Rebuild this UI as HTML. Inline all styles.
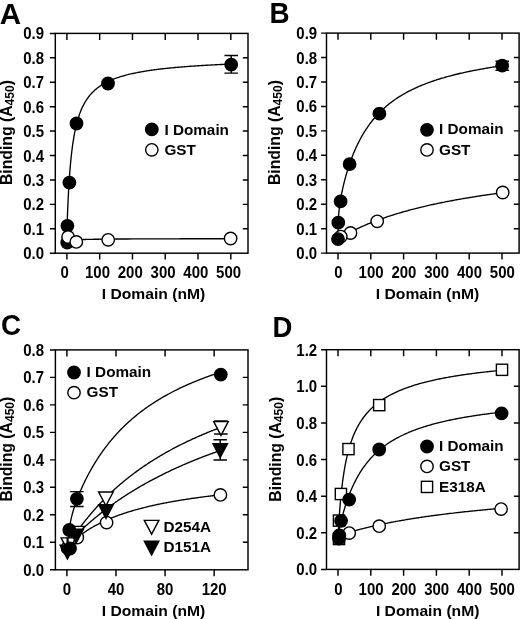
<!DOCTYPE html>
<html><head><meta charset="utf-8"><style>
html,body{margin:0;padding:0;background:#fff;}
svg{display:block;filter:grayscale(1) blur(0.3px);}
.t{font-family:"Liberation Sans", sans-serif;font-weight:bold;font-size:15px;fill:#000;}
.big{font-family:"Liberation Sans", sans-serif;font-weight:bold;font-size:29px;fill:#000;}
</style></head><body>
<svg width="520" height="619" viewBox="0 0 520 619">
<rect width="520" height="619" fill="#fff"/>
<rect x="55.3" y="33.4" width="192.70" height="219.80" fill="none" stroke="#000" stroke-width="1.45"/>
<path d="M49.90,253.20H55.30M49.90,228.78H55.30M242.80,228.78H248.00M49.90,204.36H55.30M242.80,204.36H248.00M49.90,179.93H55.30M242.80,179.93H248.00M49.90,155.51H55.30M242.80,155.51H248.00M49.90,131.09H55.30M242.80,131.09H248.00M49.90,106.67H55.30M242.80,106.67H248.00M49.90,82.24H55.30M242.80,82.24H248.00M49.90,57.82H55.30M242.80,57.82H248.00M49.90,33.40H55.30M66.90,253.20V259.60M66.90,33.40V40.00M99.68,253.20V259.60M99.68,33.40V40.00M132.46,253.20V259.60M132.46,33.40V40.00M165.24,253.20V259.60M165.24,33.40V40.00M198.02,253.20V259.60M198.02,33.40V40.00M230.80,253.20V259.60M230.80,33.40V40.00" stroke="#000" stroke-width="1.45" fill="none"/>
<text transform="translate(44.10,259.20) scale(1,1.06)" text-anchor="end" class="t">0.0</text>
<text transform="translate(44.10,234.78) scale(1,1.06)" text-anchor="end" class="t">0.1</text>
<text transform="translate(44.10,210.36) scale(1,1.06)" text-anchor="end" class="t">0.2</text>
<text transform="translate(44.10,185.93) scale(1,1.06)" text-anchor="end" class="t">0.3</text>
<text transform="translate(44.10,161.51) scale(1,1.06)" text-anchor="end" class="t">0.4</text>
<text transform="translate(44.10,137.09) scale(1,1.06)" text-anchor="end" class="t">0.5</text>
<text transform="translate(44.10,112.67) scale(1,1.06)" text-anchor="end" class="t">0.6</text>
<text transform="translate(44.10,88.24) scale(1,1.06)" text-anchor="end" class="t">0.7</text>
<text transform="translate(44.10,63.82) scale(1,1.06)" text-anchor="end" class="t">0.8</text>
<text transform="translate(44.10,39.40) scale(1,1.06)" text-anchor="end" class="t">0.9</text>
<text transform="translate(64.70,277.60) scale(1,1.06)" text-anchor="middle" class="t">0</text>
<text transform="translate(97.48,277.60) scale(1,1.06)" text-anchor="middle" class="t">100</text>
<text transform="translate(130.26,277.60) scale(1,1.06)" text-anchor="middle" class="t">200</text>
<text transform="translate(163.04,277.60) scale(1,1.06)" text-anchor="middle" class="t">300</text>
<text transform="translate(195.82,277.60) scale(1,1.06)" text-anchor="middle" class="t">400</text>
<text transform="translate(228.60,277.60) scale(1,1.06)" text-anchor="middle" class="t">500</text>
<text transform="translate(12.00,185.00) rotate(-90) scale(1.05,1.06)" class="t">Binding (A<tspan style="font-size:11.5px" dy="2">450</tspan><tspan dy="-2">)</tspan></text>
<text transform="translate(101.70,298.80) scale(1.045,1)" class="t">I Domain (nM)</text>
<text transform="translate(-0.30,23.80) scale(1.02,1.0)" class="big">A</text>
<path d="M66.90,231.40 L66.90,231.39 L66.90,231.34 L66.91,231.20 L66.91,230.92 L66.93,230.47 L66.95,229.79 L66.98,228.87 L67.02,227.65 L67.07,226.11 L67.13,224.24 L67.21,222.01 L67.30,219.42 L67.41,216.47 L67.54,213.17 L67.68,209.55 L67.85,205.64 L67.93,203.88 L68.04,201.46 L68.26,197.05 L68.49,192.47 L68.76,187.74 L68.96,184.39 L69.05,182.93 L69.38,178.06 L69.73,173.18 L69.99,169.81 L70.11,168.33 L70.53,163.54 L70.99,158.83 L71.02,158.47 L71.48,154.24 L72.00,149.77 L72.05,149.37 L72.57,145.45 L73.08,141.88 L73.18,141.28 L73.83,137.27 L74.12,135.62 L74.52,133.43 L75.15,130.28 L75.26,129.76 L76.04,126.26 L76.18,125.67 L76.87,122.92 L77.21,121.65 L77.75,119.74 L78.24,118.10 L78.68,116.72 L79.27,114.96 L79.66,113.86 L80.30,112.13 L80.69,111.14 L81.33,109.59 L81.78,108.56 L82.36,107.29 L82.92,106.12 L83.39,105.19 L84.12,103.81 L84.42,103.27 L85.38,101.62 L85.45,101.50 L86.49,99.87 L86.70,99.54 L87.52,98.36 L88.09,97.57 L88.55,96.96 L89.53,95.71 L89.58,95.65 L90.61,94.43 L91.04,93.94 L91.64,93.29 L92.61,92.27 L92.67,92.21 L93.70,91.20 L94.25,90.69 L94.73,90.25 L95.76,89.35 L95.96,89.19 L96.79,88.50 L97.74,87.76 L97.82,87.70 L98.86,86.94 L99.59,86.41 L99.89,86.21 L100.92,85.52 L101.51,85.13 L101.95,84.86 L102.98,84.23 L103.51,83.92 L104.01,83.63 L105.04,83.06 L105.58,82.76 L106.07,82.51 L107.10,81.98 L107.73,81.67 L108.13,81.47 L109.16,80.99 L109.96,80.63 L110.19,80.52 L111.23,80.08 L112.26,79.64 L112.26,79.64 L113.29,79.23 L114.32,78.83 L114.65,78.70 L115.35,78.44 L116.38,78.07 L117.12,77.81 L117.41,77.71 L118.44,77.36 L119.47,77.03 L119.67,76.96 L120.50,76.70 L121.53,76.38 L122.31,76.15 L122.56,76.08 L123.59,75.78 L124.63,75.50 L125.03,75.38 L125.66,75.22 L126.69,74.95 L127.72,74.69 L127.85,74.65 L128.75,74.43 L129.78,74.18 L130.75,73.96 L130.81,73.94 L131.84,73.71 L132.87,73.48 L133.74,73.29 L133.90,73.26 L134.93,73.04 L135.96,72.83 L136.83,72.66 L137.00,72.62 L138.03,72.42 L139.06,72.23 L140.00,72.05 L140.09,72.04 L141.12,71.85 L142.15,71.67 L143.18,71.50 L143.28,71.48 L144.21,71.32 L145.24,71.15 L146.27,70.99 L146.64,70.93 L147.30,70.83 L148.33,70.67 L149.37,70.52 L150.11,70.41 L150.40,70.36 L151.43,70.22 L152.46,70.07 L153.49,69.93 L153.68,69.91 L154.52,69.79 L155.55,69.66 L156.58,69.52 L157.34,69.43 L157.61,69.39 L158.64,69.27 L159.67,69.14 L160.70,69.02 L161.11,68.97 L161.74,68.90 L162.77,68.78 L163.80,68.66 L164.83,68.55 L164.98,68.53 L165.86,68.44 L166.89,68.33 L167.92,68.22 L168.95,68.12 L168.96,68.12 L169.98,68.01 L171.01,67.91 L172.04,67.81 L173.04,67.72 L173.07,67.71 L174.11,67.62 L175.14,67.52 L176.17,67.43 L177.20,67.34 L177.23,67.33 L178.23,67.25 L179.26,67.16 L180.29,67.07 L181.32,66.99 L181.53,66.97 L182.35,66.90 L183.38,66.82 L184.41,66.74 L185.44,66.66 L185.94,66.62 L186.47,66.58 L187.51,66.50 L188.54,66.42 L189.57,66.35 L190.46,66.28 L190.60,66.27 L191.63,66.20 L192.66,66.13 L193.69,66.06 L194.72,65.99 L195.09,65.96 L195.75,65.92 L196.78,65.85 L197.81,65.78 L198.84,65.72 L199.84,65.65 L199.88,65.65 L200.91,65.59 L201.94,65.52 L202.97,65.46 L204.00,65.40 L204.70,65.36 L205.03,65.34 L206.06,65.28 L207.09,65.22 L208.12,65.16 L209.15,65.10 L209.68,65.07 L210.18,65.05 L211.21,64.99 L212.25,64.94 L213.28,64.88 L214.31,64.83 L214.78,64.80 L215.34,64.77 L216.37,64.72 L217.40,64.67 L218.43,64.62 L219.46,64.57 L220.00,64.54 L220.49,64.52 L221.52,64.47 L222.55,64.42 L223.58,64.37 L224.62,64.32 L225.34,64.29 L225.65,64.28 L226.68,64.23 L227.71,64.18 L228.74,64.14 L229.77,64.09 L230.80,64.05" fill="none" stroke="#000" stroke-width="1.35" stroke-linejoin="round"/>
<path d="M66.90,240.50 L66.90,240.50 L66.90,240.50 L66.91,240.50 L66.91,240.50 L66.93,240.50 L66.95,240.49 L66.98,240.49 L67.02,240.49 L67.07,240.48 L67.13,240.47 L67.21,240.46 L67.30,240.45 L67.41,240.44 L67.54,240.43 L67.68,240.41 L67.85,240.39 L67.93,240.38 L68.04,240.37 L68.26,240.35 L68.49,240.33 L68.76,240.30 L68.96,240.28 L69.05,240.27 L69.38,240.24 L69.73,240.21 L69.99,240.19 L70.11,240.18 L70.53,240.15 L70.99,240.11 L71.02,240.11 L71.48,240.07 L72.00,240.04 L72.05,240.03 L72.57,240.00 L73.08,239.97 L73.18,239.96 L73.83,239.92 L74.12,239.90 L74.52,239.88 L75.15,239.85 L75.26,239.84 L76.04,239.80 L76.18,239.79 L76.87,239.76 L77.21,239.75 L77.75,239.72 L78.24,239.70 L78.68,239.68 L79.27,239.66 L79.66,239.65 L80.30,239.62 L80.69,239.61 L81.33,239.59 L81.78,239.57 L82.36,239.55 L82.92,239.53 L83.39,239.52 L84.12,239.50 L84.42,239.49 L85.38,239.46 L85.45,239.46 L86.49,239.44 L86.70,239.43 L87.52,239.41 L88.09,239.40 L88.55,239.39 L89.53,239.37 L89.58,239.37 L90.61,239.35 L91.04,239.34 L91.64,239.33 L92.61,239.31 L92.67,239.31 L93.70,239.29 L94.25,239.28 L94.73,239.27 L95.76,239.25 L95.96,239.25 L96.79,239.24 L97.74,239.22 L97.82,239.22 L98.86,239.21 L99.59,239.20 L99.89,239.20 L100.92,239.18 L101.51,239.17 L101.95,239.17 L102.98,239.16 L103.51,239.15 L104.01,239.15 L105.04,239.13 L105.58,239.13 L106.07,239.12 L107.10,239.11 L107.73,239.11 L108.13,239.10 L109.16,239.09 L109.96,239.09 L110.19,239.08 L111.23,239.07 L112.26,239.07 L112.26,239.07 L113.29,239.06 L114.32,239.05 L114.65,239.05 L115.35,239.04 L116.38,239.03 L117.12,239.03 L117.41,239.03 L118.44,239.02 L119.47,239.01 L119.67,239.01 L120.50,239.00 L121.53,239.00 L122.31,238.99 L122.56,238.99 L123.59,238.98 L124.63,238.98 L125.03,238.98 L125.66,238.97 L126.69,238.97 L127.72,238.96 L127.85,238.96 L128.75,238.96 L129.78,238.95 L130.75,238.95 L130.81,238.95 L131.84,238.94 L132.87,238.94 L133.74,238.93 L133.90,238.93 L134.93,238.93 L135.96,238.92 L136.83,238.92 L137.00,238.92 L138.03,238.91 L139.06,238.91 L140.00,238.90 L140.09,238.90 L141.12,238.90 L142.15,238.90 L143.18,238.89 L143.28,238.89 L144.21,238.89 L145.24,238.88 L146.27,238.88 L146.64,238.88 L147.30,238.88 L148.33,238.87 L149.37,238.87 L150.11,238.87 L150.40,238.87 L151.43,238.86 L152.46,238.86 L153.49,238.86 L153.68,238.86 L154.52,238.85 L155.55,238.85 L156.58,238.85 L157.34,238.85 L157.61,238.85 L158.64,238.84 L159.67,238.84 L160.70,238.84 L161.11,238.84 L161.74,238.83 L162.77,238.83 L163.80,238.83 L164.83,238.83 L164.98,238.83 L165.86,238.82 L166.89,238.82 L167.92,238.82 L168.95,238.82 L168.96,238.82 L169.98,238.81 L171.01,238.81 L172.04,238.81 L173.04,238.81 L173.07,238.81 L174.11,238.81 L175.14,238.80 L176.17,238.80 L177.20,238.80 L177.23,238.80 L178.23,238.80 L179.26,238.80 L180.29,238.79 L181.32,238.79 L181.53,238.79 L182.35,238.79 L183.38,238.79 L184.41,238.79 L185.44,238.78 L185.94,238.78 L186.47,238.78 L187.51,238.78 L188.54,238.78 L189.57,238.78 L190.46,238.78 L190.60,238.78 L191.63,238.77 L192.66,238.77 L193.69,238.77 L194.72,238.77 L195.09,238.77 L195.75,238.77 L196.78,238.77 L197.81,238.76 L198.84,238.76 L199.84,238.76 L199.88,238.76 L200.91,238.76 L201.94,238.76 L202.97,238.76 L204.00,238.76 L204.70,238.75 L205.03,238.75 L206.06,238.75 L207.09,238.75 L208.12,238.75 L209.15,238.75 L209.68,238.75 L210.18,238.75 L211.21,238.75 L212.25,238.74 L213.28,238.74 L214.31,238.74 L214.78,238.74 L215.34,238.74 L216.37,238.74 L217.40,238.74 L218.43,238.74 L219.46,238.74 L220.00,238.74 L220.49,238.74 L221.52,238.73 L222.55,238.73 L223.58,238.73 L224.62,238.73 L225.34,238.73 L225.65,238.73 L226.68,238.73 L227.71,238.73 L228.74,238.73 L229.77,238.73 L230.80,238.72" fill="none" stroke="#000" stroke-width="1.35" stroke-linejoin="round"/>
<path d="M231.20,55.40V73.10M224.45,55.40H237.95M224.45,73.10H237.95" stroke="#000" stroke-width="1.45" fill="none"/>
<circle cx="67.20" cy="242.60" r="6.2" fill="#000" stroke="#000" stroke-width="1.4"/>
<circle cx="67.40" cy="225.80" r="6.2" fill="#000" stroke="#000" stroke-width="1.4"/>
<circle cx="69.40" cy="182.60" r="6.2" fill="#000" stroke="#000" stroke-width="1.4"/>
<circle cx="76.50" cy="123.50" r="6.2" fill="#000" stroke="#000" stroke-width="1.4"/>
<circle cx="108.00" cy="83.50" r="6.2" fill="#000" stroke="#000" stroke-width="1.4"/>
<circle cx="231.20" cy="64.60" r="6.2" fill="#000" stroke="#000" stroke-width="1.4"/>
<circle cx="68.10" cy="237.00" r="6.2" fill="#fff" stroke="#000" stroke-width="1.4"/>
<circle cx="76.30" cy="241.90" r="6.2" fill="#fff" stroke="#000" stroke-width="1.4"/>
<circle cx="108.20" cy="239.80" r="6.2" fill="#fff" stroke="#000" stroke-width="1.4"/>
<circle cx="230.60" cy="238.50" r="6.2" fill="#fff" stroke="#000" stroke-width="1.4"/>
<circle cx="151.80" cy="129.40" r="6.2" fill="#000" stroke="#000" stroke-width="1.4"/>
<text transform="translate(164.40,134.60) scale(1.02,1.0)" class="t">I Domain</text>
<circle cx="151.80" cy="149.80" r="6.2" fill="#fff" stroke="#000" stroke-width="1.4"/>
<text transform="translate(164.40,155.00) scale(1.02,1.0)" class="t">GST</text>
<rect x="326.5" y="33.1" width="192.60" height="220.00" fill="none" stroke="#000" stroke-width="1.45"/>
<path d="M321.10,253.10H326.50M321.10,228.66H326.50M513.90,228.66H519.10M321.10,204.21H326.50M513.90,204.21H519.10M321.10,179.77H326.50M513.90,179.77H519.10M321.10,155.32H326.50M513.90,155.32H519.10M321.10,130.88H326.50M513.90,130.88H519.10M321.10,106.43H326.50M513.90,106.43H519.10M321.10,81.99H326.50M513.90,81.99H519.10M321.10,57.54H326.50M513.90,57.54H519.10M321.10,33.10H326.50M338.00,253.10V259.50M338.00,33.10V39.70M370.80,253.10V259.50M370.80,33.10V39.70M403.60,253.10V259.50M403.60,33.10V39.70M436.40,253.10V259.50M436.40,33.10V39.70M469.20,253.10V259.50M469.20,33.10V39.70M502.00,253.10V259.50M502.00,33.10V39.70" stroke="#000" stroke-width="1.45" fill="none"/>
<text transform="translate(317.20,259.10) scale(1,1.06)" text-anchor="end" class="t">0.0</text>
<text transform="translate(317.20,234.66) scale(1,1.06)" text-anchor="end" class="t">0.1</text>
<text transform="translate(317.20,210.21) scale(1,1.06)" text-anchor="end" class="t">0.2</text>
<text transform="translate(317.20,185.77) scale(1,1.06)" text-anchor="end" class="t">0.3</text>
<text transform="translate(317.20,161.32) scale(1,1.06)" text-anchor="end" class="t">0.4</text>
<text transform="translate(317.20,136.88) scale(1,1.06)" text-anchor="end" class="t">0.5</text>
<text transform="translate(317.20,112.43) scale(1,1.06)" text-anchor="end" class="t">0.6</text>
<text transform="translate(317.20,87.99) scale(1,1.06)" text-anchor="end" class="t">0.7</text>
<text transform="translate(317.20,63.54) scale(1,1.06)" text-anchor="end" class="t">0.8</text>
<text transform="translate(317.20,39.10) scale(1,1.06)" text-anchor="end" class="t">0.9</text>
<text transform="translate(338.30,277.50) scale(1,1.06)" text-anchor="middle" class="t">0</text>
<text transform="translate(371.10,277.50) scale(1,1.06)" text-anchor="middle" class="t">100</text>
<text transform="translate(403.90,277.50) scale(1,1.06)" text-anchor="middle" class="t">200</text>
<text transform="translate(436.70,277.50) scale(1,1.06)" text-anchor="middle" class="t">300</text>
<text transform="translate(469.50,277.50) scale(1,1.06)" text-anchor="middle" class="t">400</text>
<text transform="translate(502.30,277.50) scale(1,1.06)" text-anchor="middle" class="t">500</text>
<text transform="translate(280.00,185.00) rotate(-90) scale(1.05,1.06)" class="t">Binding (A<tspan style="font-size:11.5px" dy="2">450</tspan><tspan dy="-2">)</tspan></text>
<text transform="translate(375.80,298.50) scale(1.045,1)" class="t">I Domain (nM)</text>
<text transform="translate(269.40,23.20) scale(0.96,1.0)" class="big">B</text>
<path d="M338.00,238.93 L338.00,238.91 L338.00,238.76 L338.01,238.35 L338.01,237.58 L338.03,236.39 L338.05,234.75 L338.08,232.72 L338.12,230.39 L338.17,227.88 L338.23,225.28 L338.31,222.71 L338.40,220.21 L338.51,217.83 L338.64,215.56 L338.79,213.40 L338.95,211.34 L339.03,210.48 L339.14,209.34 L339.36,207.40 L339.60,205.47 L339.86,203.55 L340.06,202.19 L340.15,201.61 L340.48,199.64 L340.83,197.63 L341.09,196.21 L341.22,195.57 L341.63,193.45 L342.09,191.27 L342.13,191.10 L342.58,189.03 L343.11,186.72 L343.16,186.50 L343.67,184.34 L344.19,182.27 L344.28,181.90 L344.93,179.41 L345.22,178.33 L345.62,176.85 L346.25,174.62 L346.36,174.25 L347.14,171.59 L347.28,171.13 L347.97,168.90 L348.31,167.83 L348.85,166.17 L349.35,164.70 L349.78,163.42 L350.38,161.72 L350.77,160.64 L351.41,158.88 L351.80,157.84 L352.44,156.18 L352.89,155.04 L353.47,153.59 L354.03,152.23 L354.50,151.12 L355.24,149.43 L355.53,148.75 L356.50,146.64 L356.57,146.49 L357.60,144.31 L357.82,143.86 L358.63,142.22 L359.20,141.10 L359.66,140.21 L360.64,138.37 L360.69,138.28 L361.72,136.42 L362.15,135.66 L362.75,134.63 L363.73,132.99 L363.79,132.90 L364.82,131.23 L365.37,130.36 L365.85,129.62 L366.88,128.07 L367.08,127.77 L367.91,126.56 L368.86,125.23 L368.94,125.11 L369.97,123.70 L370.71,122.73 L371.01,122.34 L372.04,121.02 L372.63,120.28 L373.07,119.74 L374.10,118.50 L374.63,117.88 L375.13,117.30 L376.16,116.13 L376.70,115.53 L377.19,115.00 L378.23,113.90 L378.85,113.24 L379.26,112.82 L380.29,111.78 L381.08,111.00 L381.32,110.77 L382.35,109.79 L383.38,108.83 L383.39,108.82 L384.42,107.89 L385.45,106.98 L385.78,106.70 L386.48,106.10 L387.51,105.23 L388.25,104.63 L388.54,104.39 L389.57,103.57 L390.60,102.77 L390.80,102.61 L391.64,101.98 L392.67,101.22 L393.44,100.66 L393.70,100.48 L394.73,99.75 L395.76,99.03 L396.17,98.76 L396.79,98.34 L397.82,97.66 L398.86,96.99 L398.98,96.91 L399.89,96.34 L400.92,95.71 L401.89,95.12 L401.95,95.08 L402.98,94.47 L404.01,93.88 L404.88,93.38 L405.04,93.29 L406.08,92.72 L407.11,92.16 L407.97,91.70 L408.14,91.61 L409.17,91.07 L410.20,90.54 L411.15,90.07 L411.23,90.03 L412.26,89.52 L413.30,89.02 L414.33,88.53 L414.42,88.49 L415.36,88.05 L416.39,87.58 L417.42,87.12 L417.79,86.96 L418.45,86.67 L419.48,86.22 L420.52,85.79 L421.26,85.48 L421.55,85.36 L422.58,84.94 L423.61,84.52 L424.64,84.12 L424.83,84.04 L425.67,83.72 L426.70,83.32 L427.74,82.94 L428.50,82.66 L428.77,82.56 L429.80,82.18 L430.83,81.82 L431.86,81.45 L432.27,81.31 L432.89,81.10 L433.92,80.75 L434.96,80.40 L435.99,80.07 L436.14,80.01 L437.02,79.73 L438.05,79.40 L439.08,79.08 L440.11,78.76 L440.12,78.76 L441.14,78.45 L442.18,78.14 L443.21,77.84 L444.21,77.55 L444.24,77.54 L445.27,77.24 L446.30,76.95 L447.33,76.66 L448.36,76.38 L448.40,76.37 L449.40,76.10 L450.43,75.83 L451.46,75.56 L452.49,75.29 L452.70,75.24 L453.52,75.03 L454.55,74.77 L455.58,74.51 L456.62,74.26 L457.11,74.14 L457.65,74.01 L458.68,73.77 L459.71,73.52 L460.74,73.28 L461.63,73.08 L461.77,73.05 L462.81,72.82 L463.84,72.59 L464.87,72.36 L465.90,72.14 L466.27,72.06 L466.93,71.91 L467.96,71.70 L468.99,71.48 L470.03,71.27 L471.02,71.07 L471.06,71.06 L472.09,70.85 L473.12,70.65 L474.15,70.44 L475.18,70.24 L475.88,70.11 L476.21,70.05 L477.25,69.85 L478.28,69.66 L479.31,69.47 L480.34,69.28 L480.87,69.18 L481.37,69.09 L482.40,68.91 L483.43,68.73 L484.47,68.55 L485.50,68.37 L485.97,68.29 L486.53,68.20 L487.56,68.02 L488.59,67.85 L489.62,67.68 L490.65,67.51 L491.19,67.43 L491.69,67.35 L492.72,67.18 L493.75,67.02 L494.78,66.86 L495.81,66.70 L496.53,66.59 L496.84,66.54 L497.87,66.39 L498.91,66.24 L499.94,66.08 L500.97,65.93 L502.00,65.78" fill="none" stroke="#000" stroke-width="1.35" stroke-linejoin="round"/>
<path d="M338.00,238.93 L338.00,238.93 L338.00,238.93 L338.01,238.93 L338.01,238.92 L338.03,238.91 L338.05,238.90 L338.08,238.88 L338.12,238.86 L338.17,238.83 L338.23,238.79 L338.31,238.74 L338.40,238.69 L338.51,238.62 L338.64,238.55 L338.79,238.46 L338.95,238.36 L339.03,238.31 L339.14,238.24 L339.36,238.12 L339.60,237.98 L339.86,237.82 L340.06,237.70 L340.15,237.65 L340.48,237.46 L340.83,237.25 L341.09,237.10 L341.22,237.03 L341.63,236.79 L342.09,236.53 L342.13,236.51 L342.58,236.25 L343.11,235.95 L343.16,235.92 L343.67,235.63 L344.19,235.35 L344.28,235.30 L344.93,234.94 L345.22,234.78 L345.62,234.56 L346.25,234.22 L346.36,234.16 L347.14,233.74 L347.28,233.67 L347.97,233.30 L348.31,233.12 L348.85,232.84 L349.35,232.58 L349.78,232.36 L350.38,232.05 L350.77,231.85 L351.41,231.53 L351.80,231.33 L352.44,231.01 L352.89,230.79 L353.47,230.50 L354.03,230.23 L354.50,230.00 L355.24,229.64 L355.53,229.50 L356.50,229.04 L356.57,229.01 L357.60,228.52 L357.82,228.42 L358.63,228.05 L359.20,227.78 L359.66,227.57 L360.64,227.13 L360.69,227.11 L361.72,226.64 L362.15,226.45 L362.75,226.19 L363.73,225.77 L363.79,225.74 L364.82,225.30 L365.37,225.06 L365.85,224.86 L366.88,224.42 L367.08,224.34 L367.91,223.99 L368.86,223.60 L368.94,223.57 L369.97,223.15 L370.71,222.86 L371.01,222.74 L372.04,222.33 L372.63,222.10 L373.07,221.93 L374.10,221.53 L374.63,221.32 L375.13,221.13 L376.16,220.74 L376.70,220.54 L377.19,220.36 L378.23,219.97 L378.85,219.74 L379.26,219.60 L380.29,219.22 L381.08,218.94 L381.32,218.85 L382.35,218.49 L383.38,218.13 L383.39,218.13 L384.42,217.77 L385.45,217.42 L385.78,217.31 L386.48,217.07 L387.51,216.72 L388.25,216.48 L388.54,216.38 L389.57,216.04 L390.60,215.71 L390.80,215.64 L391.64,215.38 L392.67,215.05 L393.44,214.81 L393.70,214.73 L394.73,214.40 L395.76,214.09 L396.17,213.96 L396.79,213.77 L397.82,213.46 L398.86,213.15 L398.98,213.11 L399.89,212.85 L400.92,212.55 L401.89,212.26 L401.95,212.25 L402.98,211.95 L404.01,211.66 L404.88,211.41 L405.04,211.37 L406.08,211.08 L407.11,210.80 L407.97,210.56 L408.14,210.51 L409.17,210.23 L410.20,209.96 L411.15,209.71 L411.23,209.68 L412.26,209.41 L413.30,209.14 L414.33,208.88 L414.42,208.85 L415.36,208.61 L416.39,208.35 L417.42,208.09 L417.79,208.00 L418.45,207.84 L419.48,207.58 L420.52,207.33 L421.26,207.15 L421.55,207.08 L422.58,206.84 L423.61,206.59 L424.64,206.35 L424.83,206.30 L425.67,206.11 L426.70,205.87 L427.74,205.63 L428.50,205.46 L428.77,205.40 L429.80,205.17 L430.83,204.94 L431.86,204.71 L432.27,204.62 L432.89,204.48 L433.92,204.26 L434.96,204.04 L435.99,203.82 L436.14,203.78 L437.02,203.60 L438.05,203.38 L439.08,203.17 L440.11,202.95 L440.12,202.95 L441.14,202.74 L442.18,202.53 L443.21,202.32 L444.21,202.13 L444.24,202.12 L445.27,201.91 L446.30,201.71 L447.33,201.51 L448.36,201.31 L448.40,201.30 L449.40,201.11 L450.43,200.92 L451.46,200.72 L452.49,200.53 L452.70,200.49 L453.52,200.34 L454.55,200.15 L455.58,199.96 L456.62,199.77 L457.11,199.68 L457.65,199.59 L458.68,199.40 L459.71,199.22 L460.74,199.04 L461.63,198.88 L461.77,198.86 L462.81,198.68 L463.84,198.50 L464.87,198.33 L465.90,198.15 L466.27,198.09 L466.93,197.98 L467.96,197.81 L468.99,197.64 L470.03,197.47 L471.02,197.31 L471.06,197.30 L472.09,197.14 L473.12,196.97 L474.15,196.81 L475.18,196.64 L475.88,196.53 L476.21,196.48 L477.25,196.32 L478.28,196.16 L479.31,196.00 L480.34,195.85 L480.87,195.77 L481.37,195.69 L482.40,195.54 L483.43,195.38 L484.47,195.23 L485.50,195.08 L485.97,195.01 L486.53,194.93 L487.56,194.78 L488.59,194.63 L489.62,194.48 L490.65,194.34 L491.19,194.26 L491.69,194.19 L492.72,194.05 L493.75,193.90 L494.78,193.76 L495.81,193.62 L496.53,193.52 L496.84,193.48 L497.87,193.34 L498.91,193.20 L499.94,193.06 L500.97,192.93 L502.00,192.79" fill="none" stroke="#000" stroke-width="1.35" stroke-linejoin="round"/>
<circle cx="502.70" cy="192.50" r="6.2" fill="#fff" stroke="#000" stroke-width="1.4"/>
<circle cx="377.20" cy="221.30" r="6.2" fill="#fff" stroke="#000" stroke-width="1.4"/>
<circle cx="350.50" cy="233.00" r="6.2" fill="#fff" stroke="#000" stroke-width="1.4"/>
<circle cx="340.80" cy="236.60" r="6.2" fill="#fff" stroke="#000" stroke-width="1.4"/>
<path d="M502.20,61.20V70.20M495.45,61.20H508.95M495.45,70.20H508.95" stroke="#000" stroke-width="1.45" fill="none"/>
<circle cx="338.00" cy="239.10" r="6.2" fill="#000" stroke="#000" stroke-width="1.4"/>
<circle cx="338.30" cy="222.70" r="6.2" fill="#000" stroke="#000" stroke-width="1.4"/>
<circle cx="340.60" cy="201.40" r="6.2" fill="#000" stroke="#000" stroke-width="1.4"/>
<circle cx="349.60" cy="164.20" r="6.2" fill="#000" stroke="#000" stroke-width="1.4"/>
<circle cx="379.40" cy="113.70" r="6.2" fill="#000" stroke="#000" stroke-width="1.4"/>
<circle cx="502.20" cy="65.70" r="6.2" fill="#000" stroke="#000" stroke-width="1.4"/>
<circle cx="427.00" cy="129.80" r="6.2" fill="#000" stroke="#000" stroke-width="1.4"/>
<text transform="translate(439.00,134.40) scale(1.02,1.0)" class="t">I Domain</text>
<circle cx="427.00" cy="149.90" r="6.2" fill="#fff" stroke="#000" stroke-width="1.4"/>
<text transform="translate(439.00,154.50) scale(1.02,1.0)" class="t">GST</text>
<rect x="55.4" y="349.9" width="192.60" height="219.90" fill="none" stroke="#000" stroke-width="1.45"/>
<path d="M50.00,569.80H55.40M50.00,542.31H55.40M242.80,542.31H248.00M50.00,514.82H55.40M242.80,514.82H248.00M50.00,487.34H55.40M242.80,487.34H248.00M50.00,459.85H55.40M242.80,459.85H248.00M50.00,432.36H55.40M242.80,432.36H248.00M50.00,404.88H55.40M242.80,404.88H248.00M50.00,377.39H55.40M242.80,377.39H248.00M50.00,349.90H55.40M66.90,569.80V576.20M66.90,349.90V356.50M115.98,569.80V576.20M115.98,349.90V356.50M165.06,569.80V576.20M165.06,349.90V356.50M214.14,569.80V576.20M214.14,349.90V356.50" stroke="#000" stroke-width="1.45" fill="none"/>
<text transform="translate(44.00,575.80) scale(1,1.06)" text-anchor="end" class="t">0.0</text>
<text transform="translate(44.00,548.31) scale(1,1.06)" text-anchor="end" class="t">0.1</text>
<text transform="translate(44.00,520.82) scale(1,1.06)" text-anchor="end" class="t">0.2</text>
<text transform="translate(44.00,493.34) scale(1,1.06)" text-anchor="end" class="t">0.3</text>
<text transform="translate(44.00,465.85) scale(1,1.06)" text-anchor="end" class="t">0.4</text>
<text transform="translate(44.00,438.36) scale(1,1.06)" text-anchor="end" class="t">0.5</text>
<text transform="translate(44.00,410.88) scale(1,1.06)" text-anchor="end" class="t">0.6</text>
<text transform="translate(44.00,383.39) scale(1,1.06)" text-anchor="end" class="t">0.7</text>
<text transform="translate(44.00,355.90) scale(1,1.06)" text-anchor="end" class="t">0.8</text>
<text transform="translate(66.90,595.10) scale(1,1.06)" text-anchor="middle" class="t">0</text>
<text transform="translate(115.98,595.10) scale(1,1.06)" text-anchor="middle" class="t">40</text>
<text transform="translate(165.06,595.10) scale(1,1.06)" text-anchor="middle" class="t">80</text>
<text transform="translate(214.14,595.10) scale(1,1.06)" text-anchor="middle" class="t">120</text>
<text transform="translate(12.00,501.60) rotate(-90) scale(1.05,1.06)" class="t">Binding (A<tspan style="font-size:11.5px" dy="2">450</tspan><tspan dy="-2">)</tspan></text>
<text transform="translate(101.70,615.70) scale(1.045,1)" class="t">I Domain (nM)</text>
<text transform="translate(1.00,335.40) scale(0.96,1.0)" class="big">C</text>
<path d="M69.30,530.00 L69.30,530.00 L69.30,529.99 L69.31,529.95 L69.31,529.88 L69.33,529.77 L69.35,529.61 L69.37,529.38 L69.41,529.09 L69.46,528.72 L69.51,528.26 L69.59,527.73 L69.67,527.11 L69.77,526.41 L69.89,525.62 L70.02,524.76 L70.18,523.82 L70.25,523.40 L70.35,522.82 L70.55,521.75 L70.77,520.62 L71.01,519.43 L71.20,518.58 L71.28,518.20 L71.58,516.91 L71.91,515.57 L72.15,514.61 L72.26,514.18 L72.65,512.75 L73.06,511.27 L73.10,511.15 L73.52,509.74 L74.00,508.16 L74.05,508.01 L74.52,506.53 L75.00,505.10 L75.08,504.84 L75.68,503.11 L75.95,502.36 L76.32,501.33 L76.90,499.76 L77.00,499.49 L77.72,497.60 L77.85,497.27 L78.48,495.66 L78.80,494.88 L79.29,493.66 L79.74,492.57 L80.15,491.61 L80.69,490.34 L81.05,489.51 L81.64,488.17 L82.00,487.37 L82.59,486.07 L83.01,485.17 L83.54,484.02 L84.06,482.93 L84.49,482.03 L85.17,480.64 L85.44,480.08 L86.33,478.31 L86.39,478.19 L87.34,476.33 L87.54,475.95 L88.29,474.52 L88.82,473.54 L89.24,472.76 L90.15,471.10 L90.19,471.02 L91.14,469.33 L91.53,468.64 L92.09,467.67 L92.98,466.14 L93.04,466.05 L93.99,464.46 L94.50,463.62 L94.94,462.89 L95.89,461.37 L96.07,461.07 L96.84,459.87 L97.71,458.51 L97.79,458.39 L98.74,456.95 L99.41,455.94 L99.68,455.53 L100.63,454.14 L101.18,453.35 L101.58,452.78 L102.53,451.43 L103.02,450.75 L103.48,450.12 L104.43,448.82 L104.93,448.15 L105.38,447.55 L106.33,446.30 L106.91,445.55 L107.28,445.07 L108.23,443.86 L108.96,442.94 L109.18,442.67 L110.13,441.50 L111.08,440.35 L111.08,440.35 L112.03,439.22 L112.98,438.11 L113.28,437.75 L113.93,437.01 L114.88,435.93 L115.56,435.17 L115.83,434.87 L116.78,433.83 L117.73,432.80 L117.91,432.60 L118.68,431.79 L119.62,430.79 L120.34,430.05 L120.57,429.80 L121.52,428.84 L122.47,427.88 L122.85,427.51 L123.42,426.94 L124.37,426.02 L125.32,425.10 L125.44,424.99 L126.27,424.20 L127.22,423.32 L128.11,422.49 L128.17,422.44 L129.12,421.58 L130.07,420.73 L130.87,420.02 L131.02,419.89 L131.97,419.06 L132.92,418.24 L133.71,417.57 L133.87,417.44 L134.82,416.65 L135.77,415.86 L136.64,415.15 L136.72,415.09 L137.67,414.32 L138.62,413.57 L139.57,412.83 L139.65,412.76 L140.51,412.09 L141.46,411.37 L142.41,410.65 L142.76,410.40 L143.36,409.95 L144.31,409.25 L145.26,408.56 L145.95,408.07 L146.21,407.88 L147.16,407.21 L148.11,406.55 L149.06,405.89 L149.23,405.77 L150.01,405.24 L150.96,404.60 L151.91,403.97 L152.61,403.51 L152.86,403.34 L153.81,402.73 L154.76,402.12 L155.71,401.51 L156.08,401.28 L156.66,400.92 L157.61,400.33 L158.56,399.75 L159.51,399.17 L159.65,399.08 L160.45,398.60 L161.40,398.04 L162.35,397.48 L163.30,396.93 L163.31,396.93 L164.25,396.39 L165.20,395.85 L166.15,395.31 L167.07,394.81 L167.10,394.79 L168.05,394.27 L169.00,393.75 L169.95,393.24 L170.90,392.74 L170.93,392.72 L171.85,392.24 L172.80,391.74 L173.75,391.26 L174.70,390.77 L174.89,390.67 L175.65,390.29 L176.60,389.82 L177.55,389.35 L178.50,388.89 L178.95,388.67 L179.45,388.43 L180.39,387.97 L181.34,387.52 L182.29,387.08 L183.11,386.70 L183.24,386.63 L184.19,386.20 L185.14,385.77 L186.09,385.34 L187.04,384.91 L187.38,384.76 L187.99,384.49 L188.94,384.08 L189.89,383.66 L190.84,383.26 L191.75,382.87 L191.79,382.85 L192.74,382.45 L193.69,382.06 L194.64,381.66 L195.59,381.27 L196.23,381.01 L196.54,380.89 L197.49,380.51 L198.44,380.13 L199.39,379.75 L200.33,379.38 L200.82,379.19 L201.28,379.01 L202.23,378.65 L203.18,378.29 L204.13,377.93 L205.08,377.57 L205.52,377.41 L206.03,377.22 L206.98,376.87 L207.93,376.53 L208.88,376.18 L209.83,375.84 L210.32,375.67 L210.78,375.51 L211.73,375.17 L212.68,374.84 L213.63,374.51 L214.58,374.19 L215.24,373.96 L215.53,373.87 L216.48,373.55 L217.43,373.23 L218.38,372.91 L219.33,372.60 L220.28,372.29" fill="none" stroke="#000" stroke-width="1.35" stroke-linejoin="round"/>
<path d="M69.00,548.00 L69.30,530.00" fill="none" stroke="#000" stroke-width="1.35"/>
<path d="M66.90,546.82 L66.90,546.82 L66.90,546.82 L66.91,546.81 L66.91,546.80 L66.93,546.77 L66.95,546.74 L66.97,546.70 L67.01,546.64 L67.06,546.56 L67.12,546.47 L67.19,546.35 L67.28,546.22 L67.38,546.05 L67.50,545.86 L67.63,545.65 L67.79,545.40 L67.86,545.28 L67.97,545.12 L68.17,544.80 L68.39,544.45 L68.64,544.06 L68.83,543.76 L68.91,543.63 L69.22,543.16 L69.55,542.65 L69.79,542.27 L69.91,542.09 L70.30,541.49 L70.72,540.84 L70.76,540.79 L71.18,540.14 L71.68,539.40 L71.72,539.33 L72.21,538.61 L72.69,537.89 L72.77,537.76 L73.38,536.86 L73.65,536.47 L74.03,535.92 L74.62,535.06 L74.72,534.92 L75.45,533.86 L75.58,533.68 L76.23,532.76 L76.55,532.31 L77.05,531.60 L77.51,530.96 L77.92,530.39 L78.48,529.62 L78.84,529.13 L79.44,528.30 L79.81,527.81 L80.40,527.00 L80.82,526.44 L81.37,525.72 L81.89,525.02 L82.33,524.45 L83.02,523.55 L83.30,523.19 L84.20,522.03 L84.26,521.95 L85.23,520.72 L85.43,520.46 L86.19,519.51 L86.73,518.85 L87.16,518.31 L88.08,517.19 L88.12,517.13 L89.09,515.96 L89.49,515.48 L90.05,514.81 L90.96,513.73 L91.02,513.66 L91.98,512.53 L92.50,511.93 L92.94,511.42 L93.91,510.31 L94.10,510.10 L94.87,509.22 L95.76,508.23 L95.84,508.14 L96.80,507.07 L97.49,506.32 L97.77,506.02 L98.73,504.97 L99.29,504.37 L99.70,503.94 L100.66,502.92 L101.16,502.40 L101.63,501.91 L102.59,500.91 L103.10,500.39 L103.56,499.92 L104.52,498.94 L105.11,498.35 L105.48,497.97 L106.45,497.01 L107.19,496.28 L107.41,496.06 L108.38,495.12 L109.34,494.19 L109.35,494.19 L110.31,493.28 L111.27,492.37 L111.58,492.07 L112.24,491.46 L113.20,490.57 L113.89,489.94 L114.17,489.69 L115.13,488.82 L116.10,487.95 L116.28,487.79 L117.06,487.10 L118.03,486.25 L118.75,485.61 L118.99,485.41 L119.95,484.58 L120.92,483.75 L121.30,483.43 L121.88,482.94 L122.85,482.13 L123.81,481.33 L123.93,481.23 L124.78,480.54 L125.74,479.75 L126.65,479.02 L126.71,478.98 L127.67,478.21 L128.64,477.44 L129.45,476.81 L129.60,476.69 L130.57,475.94 L131.53,475.20 L132.33,474.59 L132.49,474.46 L133.46,473.74 L134.42,473.01 L135.31,472.36 L135.39,472.30 L136.35,471.59 L137.32,470.89 L138.28,470.19 L138.37,470.13 L139.25,469.50 L140.21,468.82 L141.18,468.14 L141.52,467.90 L142.14,467.47 L143.11,466.81 L144.07,466.15 L144.77,465.67 L145.03,465.49 L146.00,464.84 L146.96,464.20 L147.93,463.56 L148.10,463.45 L148.89,462.93 L149.86,462.31 L150.82,461.68 L151.54,461.23 L151.79,461.07 L152.75,460.46 L153.72,459.85 L154.68,459.25 L155.06,459.01 L155.65,458.65 L156.61,458.06 L157.57,457.48 L158.54,456.90 L158.68,456.81 L159.50,456.32 L160.47,455.75 L161.43,455.18 L162.40,454.62 L162.40,454.61 L163.36,454.06 L164.33,453.51 L165.29,452.96 L166.22,452.43 L166.26,452.41 L167.22,451.87 L168.19,451.34 L169.15,450.80 L170.11,450.28 L170.14,450.26 L171.08,449.75 L172.04,449.23 L173.01,448.72 L173.97,448.20 L174.17,448.10 L174.94,447.70 L175.90,447.19 L176.87,446.69 L177.83,446.20 L178.29,445.96 L178.80,445.70 L179.76,445.21 L180.73,444.73 L181.69,444.25 L182.52,443.83 L182.65,443.77 L183.62,443.29 L184.58,442.82 L185.55,442.36 L186.51,441.89 L186.86,441.73 L187.48,441.43 L188.44,440.97 L189.41,440.52 L190.37,440.07 L191.30,439.64 L191.34,439.62 L192.30,439.18 L193.27,438.73 L194.23,438.30 L195.19,437.86 L195.85,437.57 L196.16,437.43 L197.12,437.00 L198.09,436.57 L199.05,436.15 L200.02,435.73 L200.51,435.52 L200.98,435.31 L201.95,434.90 L202.91,434.49 L203.88,434.08 L204.84,433.67 L205.28,433.49 L205.81,433.27 L206.77,432.87 L207.73,432.47 L208.70,432.08 L209.66,431.69 L210.17,431.48 L210.63,431.30 L211.59,430.91 L212.56,430.52 L213.52,430.14 L214.49,429.76 L215.16,429.50 L215.45,429.39 L216.42,429.01 L217.38,428.64 L218.35,428.27 L219.31,427.90 L220.28,427.54" fill="none" stroke="#000" stroke-width="1.35" stroke-linejoin="round"/>
<path d="M66.90,544.56 L66.90,544.56 L66.90,544.56 L66.91,544.55 L66.91,544.54 L66.93,544.53 L66.95,544.51 L66.97,544.48 L67.01,544.44 L67.06,544.39 L67.12,544.33 L67.19,544.25 L67.28,544.15 L67.38,544.05 L67.50,543.92 L67.63,543.77 L67.79,543.60 L67.86,543.52 L67.97,543.41 L68.17,543.20 L68.39,542.96 L68.64,542.70 L68.83,542.50 L68.91,542.41 L69.22,542.09 L69.55,541.74 L69.79,541.48 L69.91,541.36 L70.30,540.95 L70.72,540.51 L70.76,540.48 L71.18,540.04 L71.68,539.53 L71.72,539.48 L72.21,538.98 L72.69,538.49 L72.77,538.40 L73.38,537.78 L73.65,537.51 L74.03,537.13 L74.62,536.54 L74.72,536.44 L75.45,535.71 L75.58,535.58 L76.23,534.94 L76.55,534.63 L77.05,534.13 L77.51,533.68 L77.92,533.29 L78.48,532.75 L78.84,532.40 L79.44,531.82 L79.81,531.47 L80.40,530.90 L80.82,530.51 L81.37,529.99 L81.89,529.50 L82.33,529.09 L83.02,528.46 L83.30,528.20 L84.20,527.37 L84.26,527.31 L85.23,526.43 L85.43,526.25 L86.19,525.56 L86.73,525.08 L87.16,524.70 L88.08,523.88 L88.12,523.84 L89.09,522.99 L89.49,522.64 L90.05,522.15 L90.96,521.36 L91.02,521.32 L91.98,520.49 L92.50,520.05 L92.94,519.67 L93.91,518.86 L94.10,518.70 L94.87,518.05 L95.76,517.32 L95.84,517.25 L96.80,516.46 L97.49,515.90 L97.77,515.67 L98.73,514.89 L99.29,514.44 L99.70,514.12 L100.66,513.35 L101.16,512.96 L101.63,512.59 L102.59,511.84 L103.10,511.44 L103.56,511.09 L104.52,510.35 L105.11,509.90 L105.48,509.61 L106.45,508.88 L107.19,508.32 L107.41,508.15 L108.38,507.43 L109.34,506.72 L109.35,506.72 L110.31,506.01 L111.27,505.31 L111.58,505.08 L112.24,504.61 L113.20,503.92 L113.89,503.43 L114.17,503.24 L115.13,502.55 L116.10,501.88 L116.28,501.75 L117.06,501.21 L118.03,500.54 L118.75,500.05 L118.99,499.88 L119.95,499.23 L120.92,498.58 L121.30,498.32 L121.88,497.93 L122.85,497.29 L123.81,496.65 L123.93,496.58 L124.78,496.02 L125.74,495.40 L126.65,494.81 L126.71,494.78 L127.67,494.16 L128.64,493.55 L129.45,493.03 L129.60,492.94 L130.57,492.33 L131.53,491.73 L132.33,491.24 L132.49,491.14 L133.46,490.55 L134.42,489.96 L135.31,489.43 L135.39,489.38 L136.35,488.80 L137.32,488.23 L138.28,487.65 L138.37,487.60 L139.25,487.09 L140.21,486.53 L141.18,485.97 L141.52,485.77 L142.14,485.41 L143.11,484.86 L144.07,484.32 L144.77,483.92 L145.03,483.77 L146.00,483.23 L146.96,482.70 L147.93,482.17 L148.10,482.07 L148.89,481.64 L149.86,481.11 L150.82,480.59 L151.54,480.21 L151.79,480.07 L152.75,479.56 L153.72,479.05 L154.68,478.54 L155.06,478.34 L155.65,478.04 L156.61,477.54 L157.57,477.04 L158.54,476.54 L158.68,476.47 L159.50,476.05 L160.47,475.57 L161.43,475.08 L162.40,474.60 L162.40,474.60 L163.36,474.12 L164.33,473.65 L165.29,473.17 L166.22,472.72 L166.26,472.71 L167.22,472.24 L168.19,471.78 L169.15,471.32 L170.11,470.86 L170.14,470.84 L171.08,470.40 L172.04,469.95 L173.01,469.50 L173.97,469.06 L174.17,468.97 L174.94,468.61 L175.90,468.17 L176.87,467.74 L177.83,467.30 L178.29,467.09 L178.80,466.87 L179.76,466.44 L180.73,466.01 L181.69,465.59 L182.52,465.22 L182.65,465.16 L183.62,464.75 L184.58,464.33 L185.55,463.91 L186.51,463.50 L186.86,463.36 L187.48,463.09 L188.44,462.69 L189.41,462.28 L190.37,461.88 L191.30,461.49 L191.34,461.48 L192.30,461.08 L193.27,460.69 L194.23,460.29 L195.19,459.90 L195.85,459.64 L196.16,459.52 L197.12,459.13 L198.09,458.75 L199.05,458.36 L200.02,457.99 L200.51,457.79 L200.98,457.61 L201.95,457.23 L202.91,456.86 L203.88,456.49 L204.84,456.12 L205.28,455.95 L205.81,455.75 L206.77,455.39 L207.73,455.03 L208.70,454.67 L209.66,454.31 L210.17,454.12 L210.63,453.95 L211.59,453.60 L212.56,453.25 L213.52,452.90 L214.49,452.55 L215.16,452.30 L215.45,452.20 L216.42,451.86 L217.38,451.51 L218.35,451.17 L219.31,450.83 L220.28,450.50" fill="none" stroke="#000" stroke-width="1.35" stroke-linejoin="round"/>
<path d="M66.90,547.18 L66.90,547.18 L66.90,547.18 L66.91,547.18 L66.91,547.17 L66.93,547.15 L66.95,547.13 L66.97,547.10 L67.01,547.07 L67.06,547.02 L67.12,546.95 L67.19,546.88 L67.28,546.79 L67.38,546.68 L67.50,546.56 L67.63,546.42 L67.79,546.26 L67.86,546.18 L67.97,546.08 L68.17,545.87 L68.39,545.65 L68.64,545.40 L68.83,545.21 L68.91,545.13 L69.22,544.83 L69.55,544.50 L69.79,544.26 L69.91,544.15 L70.30,543.77 L70.72,543.37 L70.76,543.34 L71.18,542.94 L71.68,542.48 L71.72,542.43 L72.21,541.99 L72.69,541.55 L72.77,541.48 L73.38,540.93 L73.65,540.69 L74.03,540.36 L74.62,539.85 L74.72,539.77 L75.45,539.14 L75.58,539.03 L76.23,538.50 L76.55,538.23 L77.05,537.82 L77.51,537.45 L77.92,537.12 L78.48,536.69 L78.84,536.40 L79.44,535.94 L79.81,535.66 L80.40,535.21 L80.82,534.89 L81.37,534.49 L81.89,534.11 L82.33,533.79 L83.02,533.30 L83.30,533.11 L84.20,532.48 L84.26,532.44 L85.23,531.78 L85.43,531.64 L86.19,531.14 L86.73,530.79 L87.16,530.51 L88.08,529.92 L88.12,529.89 L89.09,529.28 L89.49,529.04 L90.05,528.69 L90.96,528.14 L91.02,528.11 L91.98,527.54 L92.50,527.24 L92.94,526.98 L93.91,526.44 L94.10,526.33 L94.87,525.90 L95.76,525.41 L95.84,525.37 L96.80,524.85 L97.49,524.49 L97.77,524.34 L98.73,523.85 L99.29,523.56 L99.70,523.36 L100.66,522.87 L101.16,522.63 L101.63,522.40 L102.59,521.94 L103.10,521.70 L103.56,521.48 L104.52,521.03 L105.11,520.76 L105.48,520.59 L106.45,520.16 L107.19,519.83 L107.41,519.73 L108.38,519.31 L109.34,518.90 L109.35,518.90 L110.31,518.50 L111.27,518.10 L111.58,517.97 L112.24,517.71 L113.20,517.32 L113.89,517.05 L114.17,516.94 L115.13,516.57 L116.10,516.20 L116.28,516.13 L117.06,515.84 L118.03,515.48 L118.75,515.22 L118.99,515.13 L119.95,514.79 L120.92,514.45 L121.30,514.31 L121.88,514.11 L122.85,513.78 L123.81,513.45 L123.93,513.41 L124.78,513.13 L125.74,512.82 L126.65,512.52 L126.71,512.51 L127.67,512.20 L128.64,511.90 L129.45,511.64 L129.60,511.60 L130.57,511.30 L131.53,511.01 L132.33,510.77 L132.49,510.73 L133.46,510.45 L134.42,510.17 L135.31,509.92 L135.39,509.89 L136.35,509.62 L137.32,509.35 L138.28,509.09 L138.37,509.07 L139.25,508.83 L140.21,508.57 L141.18,508.32 L141.52,508.23 L142.14,508.07 L143.11,507.82 L144.07,507.58 L144.77,507.41 L145.03,507.34 L146.00,507.10 L146.96,506.87 L147.93,506.63 L148.10,506.59 L148.89,506.41 L149.86,506.18 L150.82,505.96 L151.54,505.79 L151.79,505.74 L152.75,505.52 L153.72,505.30 L154.68,505.09 L155.06,505.01 L155.65,504.88 L156.61,504.67 L157.57,504.47 L158.54,504.26 L158.68,504.23 L159.50,504.06 L160.47,503.86 L161.43,503.67 L162.40,503.47 L162.40,503.47 L163.36,503.28 L164.33,503.09 L165.29,502.91 L166.22,502.73 L166.26,502.72 L167.22,502.54 L168.19,502.36 L169.15,502.18 L170.11,502.00 L170.14,501.99 L171.08,501.83 L172.04,501.65 L173.01,501.48 L173.97,501.31 L174.17,501.28 L174.94,501.14 L175.90,500.98 L176.87,500.81 L177.83,500.65 L178.29,500.57 L178.80,500.49 L179.76,500.33 L180.73,500.17 L181.69,500.01 L182.52,499.88 L182.65,499.86 L183.62,499.71 L184.58,499.56 L185.55,499.41 L186.51,499.26 L186.86,499.21 L187.48,499.11 L188.44,498.97 L189.41,498.82 L190.37,498.68 L191.30,498.54 L191.34,498.54 L192.30,498.40 L193.27,498.26 L194.23,498.12 L195.19,497.99 L195.85,497.89 L196.16,497.85 L197.12,497.72 L198.09,497.59 L199.05,497.45 L200.02,497.33 L200.51,497.26 L200.98,497.20 L201.95,497.07 L202.91,496.94 L203.88,496.82 L204.84,496.69 L205.28,496.64 L205.81,496.57 L206.77,496.45 L207.73,496.33 L208.70,496.21 L209.66,496.09 L210.17,496.03 L210.63,495.98 L211.59,495.86 L212.56,495.74 L213.52,495.63 L214.49,495.52 L215.16,495.44 L215.45,495.40 L216.42,495.29 L217.38,495.18 L218.35,495.07 L219.31,494.96 L220.28,494.86" fill="none" stroke="#000" stroke-width="1.35" stroke-linejoin="round"/>
<path d="M76.90,491.60V506.40M70.15,491.60H83.65M70.15,506.40H83.65" stroke="#000" stroke-width="1.45" fill="none"/>
<path d="M220.90,421.00V433.90M214.15,421.00H227.65M214.15,433.90H227.65" stroke="#000" stroke-width="1.45" fill="none"/>
<path d="M220.20,439.80V460.00M213.45,439.80H226.95M213.45,460.00H226.95" stroke="#000" stroke-width="1.45" fill="none"/>
<circle cx="67.50" cy="548.00" r="6.2" fill="#fff" stroke="#000" stroke-width="1.4"/>
<circle cx="77.30" cy="537.50" r="6.2" fill="#fff" stroke="#000" stroke-width="1.4"/>
<circle cx="106.60" cy="522.60" r="6.2" fill="#fff" stroke="#000" stroke-width="1.4"/>
<circle cx="220.40" cy="494.90" r="6.2" fill="#fff" stroke="#000" stroke-width="1.4"/>
<polygon points="69.50,526.40 84.10,526.40 76.80,540.20" fill="#fff" stroke="#000" stroke-width="1.4"/>
<polygon points="98.60,492.00 113.20,492.00 105.90,505.80" fill="#fff" stroke="#000" stroke-width="1.4"/>
<polygon points="213.70,421.60 228.30,421.60 221.00,435.40" fill="#fff" stroke="#000" stroke-width="1.4"/>
<circle cx="69.30" cy="530.00" r="6.2" fill="#000" stroke="#000" stroke-width="1.4"/>
<polygon points="61.10,537.90 75.70,537.90 68.40,551.70" fill="#fff" stroke="#000" stroke-width="1.4"/>
<path d="M67.6,537.5V547" stroke="#000" stroke-width="2.2"/>
<circle cx="70.00" cy="548.50" r="6.2" fill="#000" stroke="#000" stroke-width="1.4"/>
<circle cx="76.90" cy="498.80" r="6.2" fill="#000" stroke="#000" stroke-width="1.4"/>
<circle cx="220.80" cy="374.60" r="6.2" fill="#000" stroke="#000" stroke-width="1.4"/>
<polygon points="60.10,545.30 74.70,545.30 67.40,559.10" fill="#000" stroke="#000" stroke-width="1.4"/>
<polygon points="68.90,529.10 83.50,529.10 76.20,542.90" fill="#000" stroke="#000" stroke-width="1.4"/>
<polygon points="98.70,504.70 113.30,504.70 106.00,518.50" fill="#000" stroke="#000" stroke-width="1.4"/>
<polygon points="212.90,443.60 227.50,443.60 220.20,457.40" fill="#000" stroke="#000" stroke-width="1.4"/>
<circle cx="74.00" cy="372.50" r="6.2" fill="#000" stroke="#000" stroke-width="1.4"/>
<text transform="translate(86.60,377.20) scale(1.02,1.0)" class="t">I Domain</text>
<circle cx="74.00" cy="392.70" r="6.2" fill="#fff" stroke="#000" stroke-width="1.4"/>
<text transform="translate(86.60,397.40) scale(1.02,1.0)" class="t">GST</text>
<polygon points="144.30,520.40 158.90,520.40 151.60,534.20" fill="#fff" stroke="#000" stroke-width="1.4"/>
<text transform="translate(163.40,531.70) scale(1.02,1.0)" class="t">D254A</text>
<polygon points="144.30,541.10 158.90,541.10 151.60,554.90" fill="#000" stroke="#000" stroke-width="1.4"/>
<text transform="translate(163.40,552.40) scale(1.02,1.0)" class="t">D151A</text>
<rect x="326.5" y="349.7" width="192.60" height="219.70" fill="none" stroke="#000" stroke-width="1.45"/>
<path d="M321.10,569.40H326.50M321.10,532.78H326.50M513.90,532.78H519.10M321.10,496.17H326.50M513.90,496.17H519.10M321.10,459.55H326.50M513.90,459.55H519.10M321.10,422.93H326.50M513.90,422.93H519.10M321.10,386.32H326.50M513.90,386.32H519.10M321.10,349.70H326.50M338.00,569.40V575.80M338.00,349.70V356.30M370.80,569.40V575.80M370.80,349.70V356.30M403.60,569.40V575.80M403.60,349.70V356.30M436.40,569.40V575.80M436.40,349.70V356.30M469.20,569.40V575.80M469.20,349.70V356.30M502.00,569.40V575.80M502.00,349.70V356.30" stroke="#000" stroke-width="1.45" fill="none"/>
<text transform="translate(317.20,575.40) scale(1,1.06)" text-anchor="end" class="t">0.0</text>
<text transform="translate(317.20,538.78) scale(1,1.06)" text-anchor="end" class="t">0.2</text>
<text transform="translate(317.20,502.17) scale(1,1.06)" text-anchor="end" class="t">0.4</text>
<text transform="translate(317.20,465.55) scale(1,1.06)" text-anchor="end" class="t">0.6</text>
<text transform="translate(317.20,428.93) scale(1,1.06)" text-anchor="end" class="t">0.8</text>
<text transform="translate(317.20,392.32) scale(1,1.06)" text-anchor="end" class="t">1.0</text>
<text transform="translate(317.20,355.70) scale(1,1.06)" text-anchor="end" class="t">1.2</text>
<text transform="translate(338.30,595.30) scale(1,1.06)" text-anchor="middle" class="t">0</text>
<text transform="translate(371.10,595.30) scale(1,1.06)" text-anchor="middle" class="t">100</text>
<text transform="translate(403.90,595.30) scale(1,1.06)" text-anchor="middle" class="t">200</text>
<text transform="translate(436.70,595.30) scale(1,1.06)" text-anchor="middle" class="t">300</text>
<text transform="translate(469.50,595.30) scale(1,1.06)" text-anchor="middle" class="t">400</text>
<text transform="translate(502.30,595.30) scale(1,1.06)" text-anchor="middle" class="t">500</text>
<text transform="translate(281.00,501.70) rotate(-90) scale(1.05,1.06)" class="t">Binding (A<tspan style="font-size:11.5px" dy="2">450</tspan><tspan dy="-2">)</tspan></text>
<text transform="translate(375.90,615.70) scale(1.045,1)" class="t">I Domain (nM)</text>
<text transform="translate(272.50,337.30) scale(0.95,1.0)" class="big">D</text>
<path d="M338.00,537.52 L338.00,537.52 L338.00,537.49 L338.01,537.40 L338.01,537.23 L338.03,536.95 L338.05,536.54 L338.08,535.97 L338.12,535.22 L338.17,534.27 L338.23,533.10 L338.31,531.69 L338.40,530.04 L338.51,528.14 L338.64,526.00 L338.79,523.60 L338.95,520.97 L339.03,519.77 L339.14,518.11 L339.36,515.04 L339.60,511.78 L339.86,508.35 L340.06,505.88 L340.15,504.78 L340.48,501.10 L340.83,497.32 L341.09,494.66 L341.22,493.47 L341.63,489.59 L342.09,485.68 L342.13,485.38 L342.58,481.78 L343.11,477.90 L343.16,477.54 L343.67,474.05 L344.19,470.82 L344.28,470.26 L344.93,466.54 L345.22,464.98 L345.62,462.89 L346.25,459.83 L346.36,459.33 L347.14,455.85 L347.28,455.26 L347.97,452.47 L348.31,451.16 L348.85,449.18 L349.35,447.46 L349.78,445.99 L350.38,444.09 L350.77,442.90 L351.41,441.01 L351.80,439.91 L352.44,438.18 L352.89,437.02 L353.47,435.57 L354.03,434.23 L354.50,433.14 L355.24,431.53 L355.53,430.89 L356.50,428.92 L356.57,428.78 L357.60,426.80 L357.82,426.40 L358.63,424.95 L359.20,423.97 L359.66,423.20 L360.64,421.62 L360.69,421.54 L361.72,419.98 L362.15,419.35 L362.75,418.50 L363.73,417.17 L363.79,417.09 L364.82,415.75 L365.37,415.06 L365.85,414.47 L366.88,413.25 L367.08,413.02 L367.91,412.08 L368.86,411.05 L368.94,410.96 L369.97,409.89 L370.71,409.15 L371.01,408.86 L372.04,407.87 L372.63,407.32 L373.07,406.92 L374.10,406.01 L374.63,405.55 L375.13,405.12 L376.16,404.27 L376.70,403.84 L377.19,403.45 L378.23,402.66 L378.85,402.19 L379.26,401.89 L380.29,401.15 L381.08,400.59 L381.32,400.43 L382.35,399.73 L383.38,399.06 L383.39,399.05 L384.42,398.40 L385.45,397.77 L385.78,397.57 L386.48,397.15 L387.51,396.55 L388.25,396.13 L388.54,395.97 L389.57,395.40 L390.60,394.85 L390.80,394.74 L391.64,394.31 L392.67,393.79 L393.44,393.40 L393.70,393.28 L394.73,392.78 L395.76,392.30 L396.17,392.11 L396.79,391.83 L397.82,391.36 L398.86,390.91 L398.98,390.86 L399.89,390.48 L400.92,390.05 L401.89,389.65 L401.95,389.63 L402.98,389.22 L404.01,388.82 L404.88,388.48 L405.04,388.42 L406.08,388.04 L407.11,387.66 L407.97,387.36 L408.14,387.30 L409.17,386.94 L410.20,386.59 L411.15,386.27 L411.23,386.24 L412.26,385.90 L413.30,385.57 L414.33,385.25 L414.42,385.22 L415.36,384.93 L416.39,384.62 L417.42,384.31 L417.79,384.20 L418.45,384.01 L419.48,383.71 L420.52,383.42 L421.26,383.22 L421.55,383.14 L422.58,382.86 L423.61,382.59 L424.64,382.32 L424.83,382.27 L425.67,382.05 L426.70,381.79 L427.74,381.54 L428.50,381.35 L428.77,381.29 L429.80,381.04 L430.83,380.80 L431.86,380.56 L432.27,380.47 L432.89,380.32 L433.92,380.09 L434.96,379.87 L435.99,379.64 L436.14,379.61 L437.02,379.42 L438.05,379.21 L439.08,378.99 L440.11,378.78 L440.12,378.78 L441.14,378.58 L442.18,378.37 L443.21,378.17 L444.21,377.98 L444.24,377.98 L445.27,377.78 L446.30,377.59 L447.33,377.40 L448.36,377.22 L448.40,377.21 L449.40,377.03 L450.43,376.85 L451.46,376.67 L452.49,376.50 L452.70,376.46 L453.52,376.33 L454.55,376.15 L455.58,375.99 L456.62,375.82 L457.11,375.74 L457.65,375.66 L458.68,375.49 L459.71,375.33 L460.74,375.18 L461.63,375.04 L461.77,375.02 L462.81,374.87 L463.84,374.72 L464.87,374.57 L465.90,374.42 L466.27,374.37 L466.93,374.28 L467.96,374.13 L468.99,373.99 L470.03,373.85 L471.02,373.72 L471.06,373.71 L472.09,373.57 L473.12,373.44 L474.15,373.31 L475.18,373.17 L475.88,373.09 L476.21,373.04 L477.25,372.92 L478.28,372.79 L479.31,372.66 L480.34,372.54 L480.87,372.48 L481.37,372.42 L482.40,372.30 L483.43,372.18 L484.47,372.06 L485.50,371.94 L485.97,371.89 L486.53,371.82 L487.56,371.71 L488.59,371.60 L489.62,371.48 L490.65,371.37 L491.19,371.32 L491.69,371.26 L492.72,371.16 L493.75,371.05 L494.78,370.94 L495.81,370.84 L496.53,370.76 L496.84,370.73 L497.87,370.63 L498.91,370.53 L499.94,370.43 L500.97,370.33 L502.00,370.23" fill="none" stroke="#000" stroke-width="1.35" stroke-linejoin="round"/>
<path d="M338.00,535.22 L338.00,535.21 L338.00,535.21 L338.01,535.18 L338.01,535.14 L338.03,535.07 L338.05,534.96 L338.08,534.82 L338.12,534.62 L338.17,534.37 L338.23,534.06 L338.31,533.68 L338.40,533.23 L338.51,532.70 L338.64,532.09 L338.79,531.39 L338.95,530.60 L339.03,530.23 L339.14,529.71 L339.36,528.73 L339.60,527.65 L339.86,526.47 L340.06,525.58 L340.15,525.18 L340.48,523.80 L340.83,522.32 L341.09,521.23 L341.22,520.73 L341.63,519.06 L342.09,517.29 L342.13,517.15 L342.58,515.43 L343.11,513.50 L343.16,513.31 L343.67,511.48 L344.19,509.70 L344.28,509.39 L344.93,507.24 L345.22,506.30 L345.62,505.02 L346.25,503.09 L346.36,502.76 L347.14,500.45 L347.28,500.05 L347.97,498.10 L348.31,497.16 L348.85,495.72 L349.35,494.43 L349.78,493.31 L350.38,491.83 L350.77,490.89 L351.41,489.36 L351.80,488.46 L352.44,487.01 L352.89,486.02 L353.47,484.76 L354.03,483.58 L354.50,482.62 L355.24,481.16 L355.53,480.57 L356.50,478.75 L356.57,478.62 L357.60,476.74 L357.82,476.35 L358.63,474.94 L359.20,473.98 L359.66,473.22 L360.64,471.64 L360.69,471.56 L361.72,469.97 L362.15,469.33 L362.75,468.44 L363.73,467.05 L363.79,466.97 L364.82,465.56 L365.37,464.82 L365.85,464.19 L366.88,462.87 L367.08,462.62 L367.91,461.60 L368.86,460.47 L368.94,460.37 L369.97,459.19 L370.71,458.37 L371.01,458.04 L372.04,456.93 L372.63,456.31 L373.07,455.86 L374.10,454.82 L374.63,454.30 L375.13,453.82 L376.16,452.84 L376.70,452.34 L377.19,451.90 L378.23,450.98 L378.85,450.43 L379.26,450.09 L380.29,449.22 L381.08,448.57 L381.32,448.38 L382.35,447.57 L383.38,446.77 L383.39,446.77 L384.42,446.00 L385.45,445.25 L385.78,445.01 L386.48,444.52 L387.51,443.80 L388.25,443.30 L388.54,443.11 L389.57,442.43 L390.60,441.78 L390.80,441.65 L391.64,441.13 L392.67,440.51 L393.44,440.05 L393.70,439.90 L394.73,439.30 L395.76,438.72 L396.17,438.49 L396.79,438.15 L397.82,437.59 L398.86,437.05 L398.98,436.98 L399.89,436.52 L400.92,436.00 L401.89,435.52 L401.95,435.49 L402.98,435.00 L404.01,434.51 L404.88,434.11 L405.04,434.04 L406.08,433.57 L407.11,433.12 L407.97,432.75 L408.14,432.67 L409.17,432.24 L410.20,431.81 L411.15,431.43 L411.23,431.39 L412.26,430.98 L413.30,430.58 L414.33,430.19 L414.42,430.15 L415.36,429.80 L416.39,429.42 L417.42,429.05 L417.79,428.92 L418.45,428.68 L419.48,428.33 L420.52,427.97 L421.26,427.72 L421.55,427.63 L422.58,427.29 L423.61,426.96 L424.64,426.63 L424.83,426.57 L425.67,426.31 L426.70,425.99 L427.74,425.68 L428.50,425.46 L428.77,425.38 L429.80,425.08 L430.83,424.79 L431.86,424.50 L432.27,424.38 L432.89,424.21 L433.92,423.93 L434.96,423.66 L435.99,423.39 L436.14,423.35 L437.02,423.12 L438.05,422.86 L439.08,422.60 L440.11,422.35 L440.12,422.35 L441.14,422.10 L442.18,421.85 L443.21,421.61 L444.21,421.38 L444.24,421.37 L445.27,421.14 L446.30,420.90 L447.33,420.68 L448.36,420.45 L448.40,420.44 L449.40,420.23 L450.43,420.01 L451.46,419.80 L452.49,419.59 L452.70,419.54 L453.52,419.38 L454.55,419.17 L455.58,418.97 L456.62,418.77 L457.11,418.67 L457.65,418.57 L458.68,418.38 L459.71,418.18 L460.74,418.00 L461.63,417.83 L461.77,417.81 L462.81,417.62 L463.84,417.44 L464.87,417.26 L465.90,417.09 L466.27,417.02 L466.93,416.91 L467.96,416.74 L468.99,416.57 L470.03,416.40 L471.02,416.24 L471.06,416.23 L472.09,416.07 L473.12,415.91 L474.15,415.75 L475.18,415.59 L475.88,415.49 L476.21,415.44 L477.25,415.28 L478.28,415.13 L479.31,414.98 L480.34,414.83 L480.87,414.76 L481.37,414.68 L482.40,414.54 L483.43,414.40 L484.47,414.26 L485.50,414.12 L485.97,414.05 L486.53,413.98 L487.56,413.84 L488.59,413.71 L489.62,413.57 L490.65,413.44 L491.19,413.37 L491.69,413.31 L492.72,413.18 L493.75,413.05 L494.78,412.93 L495.81,412.80 L496.53,412.72 L496.84,412.68 L497.87,412.56 L498.91,412.44 L499.94,412.32 L500.97,412.20 L502.00,412.08" fill="none" stroke="#000" stroke-width="1.35" stroke-linejoin="round"/>
<path d="M338.00,535.86 L338.00,535.86 L338.00,535.86 L338.01,535.85 L338.01,535.85 L338.03,535.85 L338.05,535.84 L338.08,535.83 L338.12,535.82 L338.17,535.80 L338.23,535.78 L338.31,535.75 L338.40,535.72 L338.51,535.69 L338.64,535.64 L338.79,535.59 L338.95,535.54 L339.03,535.51 L339.14,535.48 L339.36,535.41 L339.60,535.33 L339.86,535.24 L340.06,535.17 L340.15,535.14 L340.48,535.04 L340.83,534.92 L341.09,534.84 L341.22,534.80 L341.63,534.66 L342.09,534.52 L342.13,534.51 L342.58,534.36 L343.11,534.20 L343.16,534.18 L343.67,534.02 L344.19,533.86 L344.28,533.83 L344.93,533.63 L345.22,533.54 L345.62,533.41 L346.25,533.22 L346.36,533.19 L347.14,532.95 L347.28,532.91 L347.97,532.70 L348.31,532.60 L348.85,532.44 L349.35,532.30 L349.78,532.17 L350.38,532.00 L350.77,531.89 L351.41,531.70 L351.80,531.59 L352.44,531.41 L352.89,531.28 L353.47,531.12 L354.03,530.96 L354.50,530.83 L355.24,530.63 L355.53,530.54 L356.50,530.28 L356.57,530.26 L357.60,529.99 L357.82,529.93 L358.63,529.71 L359.20,529.56 L359.66,529.44 L360.64,529.18 L360.69,529.17 L361.72,528.90 L362.15,528.79 L362.75,528.64 L363.73,528.40 L363.79,528.38 L364.82,528.12 L365.37,527.99 L365.85,527.87 L366.88,527.62 L367.08,527.57 L367.91,527.37 L368.86,527.14 L368.94,527.12 L369.97,526.88 L370.71,526.70 L371.01,526.64 L372.04,526.40 L372.63,526.26 L373.07,526.16 L374.10,525.93 L374.63,525.81 L375.13,525.69 L376.16,525.46 L376.70,525.35 L377.19,525.24 L378.23,525.01 L378.85,524.88 L379.26,524.79 L380.29,524.57 L381.08,524.40 L381.32,524.35 L382.35,524.14 L383.38,523.92 L383.39,523.92 L384.42,523.71 L385.45,523.50 L385.78,523.43 L386.48,523.29 L387.51,523.09 L388.25,522.94 L388.54,522.88 L389.57,522.68 L390.60,522.48 L390.80,522.44 L391.64,522.28 L392.67,522.09 L393.44,521.94 L393.70,521.89 L394.73,521.70 L395.76,521.51 L396.17,521.43 L396.79,521.32 L397.82,521.13 L398.86,520.95 L398.98,520.92 L399.89,520.76 L400.92,520.58 L401.89,520.41 L401.95,520.40 L402.98,520.22 L404.01,520.04 L404.88,519.90 L405.04,519.87 L406.08,519.69 L407.11,519.52 L407.97,519.38 L408.14,519.35 L409.17,519.18 L410.20,519.01 L411.15,518.86 L411.23,518.84 L412.26,518.68 L413.30,518.52 L414.33,518.35 L414.42,518.34 L415.36,518.19 L416.39,518.03 L417.42,517.87 L417.79,517.82 L418.45,517.72 L419.48,517.56 L420.52,517.41 L421.26,517.29 L421.55,517.25 L422.58,517.10 L423.61,516.95 L424.64,516.80 L424.83,516.77 L425.67,516.65 L426.70,516.50 L427.74,516.36 L428.50,516.25 L428.77,516.21 L429.80,516.07 L430.83,515.93 L431.86,515.79 L432.27,515.73 L432.89,515.65 L433.92,515.51 L434.96,515.37 L435.99,515.23 L436.14,515.21 L437.02,515.10 L438.05,514.96 L439.08,514.83 L440.11,514.69 L440.12,514.69 L441.14,514.56 L442.18,514.43 L443.21,514.30 L444.21,514.18 L444.24,514.17 L445.27,514.05 L446.30,513.92 L447.33,513.79 L448.36,513.67 L448.40,513.67 L449.40,513.54 L450.43,513.42 L451.46,513.30 L452.49,513.18 L452.70,513.15 L453.52,513.06 L454.55,512.94 L455.58,512.82 L456.62,512.70 L457.11,512.65 L457.65,512.59 L458.68,512.47 L459.71,512.35 L460.74,512.24 L461.63,512.14 L461.77,512.13 L462.81,512.01 L463.84,511.90 L464.87,511.79 L465.90,511.68 L466.27,511.64 L466.93,511.57 L467.96,511.46 L468.99,511.35 L470.03,511.25 L471.02,511.14 L471.06,511.14 L472.09,511.03 L473.12,510.93 L474.15,510.82 L475.18,510.72 L475.88,510.65 L476.21,510.62 L477.25,510.52 L478.28,510.41 L479.31,510.31 L480.34,510.21 L480.87,510.16 L481.37,510.11 L482.40,510.01 L483.43,509.92 L484.47,509.82 L485.50,509.72 L485.97,509.68 L486.53,509.62 L487.56,509.53 L488.59,509.43 L489.62,509.34 L490.65,509.25 L491.19,509.20 L491.69,509.15 L492.72,509.06 L493.75,508.97 L494.78,508.88 L495.81,508.79 L496.53,508.72 L496.84,508.70 L497.87,508.61 L498.91,508.52 L499.94,508.43 L500.97,508.34 L502.00,508.25" fill="none" stroke="#000" stroke-width="1.35" stroke-linejoin="round"/>
<rect x="333.40" y="533.40" width="11.2" height="11.2" fill="#fff" stroke="#000" stroke-width="1.4"/>
<rect x="333.40" y="515.00" width="11.2" height="11.2" fill="#fff" stroke="#000" stroke-width="1.4"/>
<rect x="335.30" y="488.40" width="11.2" height="11.2" fill="#fff" stroke="#000" stroke-width="1.4"/>
<rect x="342.90" y="443.50" width="11.2" height="11.2" fill="#fff" stroke="#000" stroke-width="1.4"/>
<rect x="373.60" y="399.50" width="11.2" height="11.2" fill="#fff" stroke="#000" stroke-width="1.4"/>
<rect x="496.40" y="364.20" width="11.2" height="11.2" fill="#fff" stroke="#000" stroke-width="1.4"/>
<circle cx="339.50" cy="536.00" r="6.2" fill="#fff" stroke="#000" stroke-width="1.4"/>
<circle cx="349.20" cy="533.10" r="6.2" fill="#fff" stroke="#000" stroke-width="1.4"/>
<circle cx="379.20" cy="526.20" r="6.2" fill="#fff" stroke="#000" stroke-width="1.4"/>
<circle cx="501.10" cy="509.10" r="6.2" fill="#fff" stroke="#000" stroke-width="1.4"/>
<circle cx="339.30" cy="535.50" r="6.2" fill="#000" stroke="#000" stroke-width="1.4"/>
<circle cx="341.10" cy="520.80" r="6.2" fill="#000" stroke="#000" stroke-width="1.4"/>
<circle cx="349.20" cy="499.60" r="6.2" fill="#000" stroke="#000" stroke-width="1.4"/>
<circle cx="379.20" cy="449.50" r="6.2" fill="#000" stroke="#000" stroke-width="1.4"/>
<circle cx="501.60" cy="413.30" r="6.2" fill="#000" stroke="#000" stroke-width="1.4"/>
<circle cx="339.00" cy="538.50" r="6.2" fill="#000" stroke="#000" stroke-width="1.4"/>
<circle cx="427.00" cy="446.50" r="6.2" fill="#000" stroke="#000" stroke-width="1.4"/>
<text transform="translate(439.00,451.10) scale(1.02,1.0)" class="t">I Domain</text>
<circle cx="427.00" cy="466.40" r="6.2" fill="#fff" stroke="#000" stroke-width="1.4"/>
<text transform="translate(439.00,471.00) scale(1.02,1.0)" class="t">GST</text>
<rect x="421.40" y="481.30" width="11.2" height="11.2" fill="#fff" stroke="#000" stroke-width="1.4"/>
<text transform="translate(439.00,491.50) scale(1.02,1.0)" class="t">E318A</text>
</svg>
</body></html>
